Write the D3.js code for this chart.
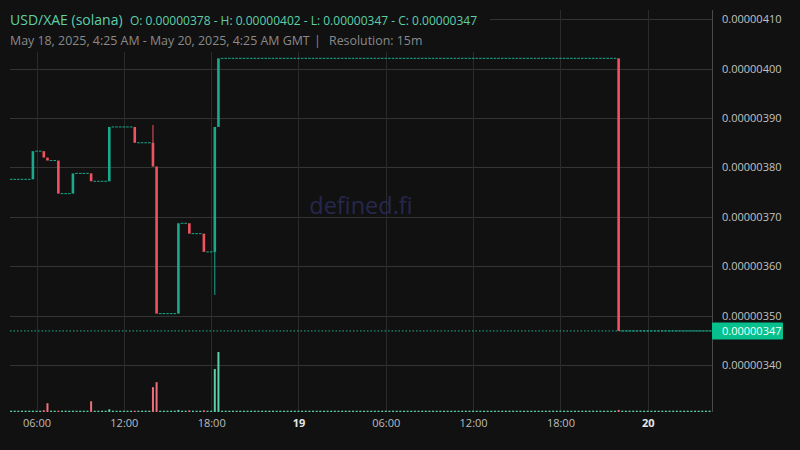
<!DOCTYPE html>
<html>
<head>
<meta charset="utf-8">
<script src="https://cdn.jsdelivr.net/npm/d3@7"></script>
<style>
  html, body { margin: 0; padding: 0; background: #111111; }
  svg { display: block; }
  text { font-family: "Open Sans", "Noto Sans", sans-serif; }
</style>
</head>
<body>
<svg id="chart" width="800" height="450"></svg>
<script>
// ---------- DATA (prices in units of 1e-8) ----------
const UNIT = 1e-8;
const startTime = Date.UTC(2025, 4, 18, 4, 15); // first 15m candle
const stepMs = 15 * 60 * 1000;

const closes = [
  377.6, 377.6, 377.6, 377.6, 377.6, 377.6,
  383.3, 383.3, 383.3,
  382.0,
  381.4, 381.4, 381.4,
  374.7, 374.7, 374.7, 374.7,
  378.8, 378.8, 378.8, 378.8, 378.8,
  377.2, 377.2, 377.2, 377.2, 377.2,
  388.2, 388.2, 388.2, 388.2, 388.2, 388.2, 388.2,
  385.0, 385.0, 385.0, 385.0, 385.0,
  380.2,
  350.4, 350.4, 350.4, 350.4, 350.4, 350.4,
  368.7, 368.7, 368.7,
  366.6, 366.6, 366.6, 366.6,
  362.9, 362.9, 362.9,
  388.2,
  402.1, 402.1, 402.1, 402.1, 402.1, 402.1, 402.1, 402.1, 402.1, 402.1,
  402.1, 402.1, 402.1, 402.1, 402.1, 402.1, 402.1, 402.1, 402.1, 402.1,
  402.1, 402.1, 402.1, 402.1, 402.1, 402.1, 402.1, 402.1, 402.1, 402.1,
  402.1, 402.1, 402.1, 402.1, 402.1, 402.1, 402.1, 402.1, 402.1, 402.1,
  402.1, 402.1, 402.1, 402.1, 402.1, 402.1, 402.1, 402.1, 402.1, 402.1,
  402.1, 402.1, 402.1, 402.1, 402.1, 402.1, 402.1, 402.1, 402.1, 402.1,
  402.1, 402.1, 402.1, 402.1, 402.1, 402.1, 402.1, 402.1, 402.1, 402.1,
  402.1, 402.1, 402.1, 402.1, 402.1, 402.1, 402.1, 402.1, 402.1, 402.1,
  402.1, 402.1, 402.1, 402.1, 402.1, 402.1, 402.1, 402.1, 402.1, 402.1,
  402.1, 402.1, 402.1, 402.1, 402.1, 402.1, 402.1, 402.1, 402.1, 402.1,
  402.1, 402.1, 402.1, 402.1, 402.1, 402.1, 402.1, 402.1, 402.1, 402.1,
  346.9, 346.9, 346.9, 346.9, 346.9, 346.9, 346.9, 346.9, 346.9, 346.9,
  346.9, 346.9, 346.9, 346.9, 346.9, 346.9, 346.9, 346.9, 346.9, 346.9,
  346.9, 346.9, 346.9, 346.9, 346.9, 346.9
];
const firstOpen = 377.6;
// wicks beyond the bodies
const wickIndex = [39, 56];
const wickHigh  = [388.6, 388.2];
const wickLow   = [380.2, 354.2];

const volumes = [
  22, 22, 22, 22, 22, 22, 22, 22, 22, 30,
  146, 22, 22, 22, 22, 22, 22, 22, 22, 22,
  22, 22, 179, 22, 22, 22, 22, 45, 22, 22,
  22, 22, 22, 22, 22, 22, 22, 22, 22, 414,
  497, 22, 22, 22, 22, 22, 35, 22, 22, 28,
  22, 22, 22, 28, 22, 22, 716, 1000, 22, 22,
  22, 22, 22, 22, 22, 22, 22, 22, 22, 22,
  22, 22, 22, 22, 22, 22, 22, 22, 22, 22,
  22, 22, 22, 22, 22, 22, 22, 22, 22, 22,
  22, 22, 22, 22, 22, 22, 22, 22, 22, 22,
  22, 22, 22, 22, 22, 22, 22, 22, 22, 22,
  22, 22, 22, 22, 22, 22, 22, 22, 22, 22,
  22, 22, 22, 22, 22, 22, 22, 22, 22, 22,
  22, 22, 22, 22, 22, 22, 22, 22, 22, 22,
  22, 22, 22, 22, 22, 22, 22, 22, 22, 22,
  22, 22, 22, 22, 22, 22, 22, 22, 22, 22,
  22, 22, 22, 22, 22, 22, 22, 35, 22, 22,
  22, 22, 22, 22, 22, 22, 22, 22, 22, 22,
  22, 22, 22, 22, 22, 22, 22, 22, 22, 22,
  22, 22, 22
];

const priceTicks = [340, 350, 360, 370, 380, 390, 400, 410];
const timeTicks = [
  Date.UTC(2025, 4, 18, 6), Date.UTC(2025, 4, 18, 12), Date.UTC(2025, 4, 18, 18),
  Date.UTC(2025, 4, 19, 0), Date.UTC(2025, 4, 19, 6), Date.UTC(2025, 4, 19, 12),
  Date.UTC(2025, 4, 19, 18), Date.UTC(2025, 4, 20, 0)
];
const timeTickLabels = ["06:00", "12:00", "18:00", "19", "06:00", "12:00", "18:00", "20"];
const lastPrice = 346.9;

const title = "USD/XAE (solana)";
const ohlcText = "O: 0.00000378 - H: 0.00000402 - L: 0.00000347 - C: 0.00000347";
const rangeText = "May 18, 2025, 4:25 AM - May 20, 2025, 4:25 AM GMT";
const resolutionText = "Resolution: 15m";

// ---------- BUILD ----------
const candles = closes.map((c, i) => {
  const o = i === 0 ? firstOpen : closes[i - 1];
  let h = Math.max(o, c), l = Math.min(o, c);
  const w = wickIndex.indexOf(i);
  if (w >= 0) { h = Math.max(h, wickHigh[w]); l = Math.min(l, wickLow[w]); }
  return { t: new Date(startTime + i * stepMs), o, h, l, c, v: volumes[i] };
});

const svg = d3.select("#chart");
const plotLeft = 10, plotRight = 712, plotTop = 10, plotBottom = 412;

const x = d3.scaleTime()
  .domain([new Date(Date.UTC(2025, 4, 18, 4, 25)), new Date(Date.UTC(2025, 4, 20, 4, 25))])
  .range([13.5, 712]);
const y = d3.scaleLinear().domain([340, 410]).range([365, 19.3]);
const yv = d3.scaleLinear().domain([0, 1000]).range([412, 352]);

const GREEN = "#19a98c", RED = "#ef5360";
const VGREEN = "#5bcfa9", VRED = "#ec6f7b";

svg.append("rect").attr("width", 800).attr("height", 450).attr("fill", "#111111");

svg.append("defs").append("clipPath").attr("id", "plotclip")
  .append("rect").attr("x", plotLeft).attr("y", plotTop)
  .attr("width", plotRight - plotLeft).attr("height", plotBottom - plotTop);

// gridlines
const grid = svg.append("g").attr("shape-rendering", "crispEdges");
grid.selectAll("line.h").data(priceTicks).join("line")
  .attr("x1", plotLeft).attr("x2", plotRight)
  .attr("y1", d => Math.round(y(d)) + 0.5).attr("y2", d => Math.round(y(d)) + 0.5)
  .attr("stroke", "#343434").attr("stroke-width", 1);
grid.selectAll("line.v").data(timeTicks).join("line")
  .attr("x1", d => Math.round(x(d)) + 0.5).attr("x2", d => Math.round(x(d)) + 0.5)
  .attr("y1", plotTop).attr("y2", plotBottom)
  .attr("stroke", "#2b2b2b").attr("stroke-width", 1);

// watermark
svg.append("text").attr("x", 361).attr("y", 214).attr("text-anchor", "middle")
  .attr("font-size", 23.5).attr("fill", "#27274e").text("defined.fi");

const plot = svg.append("g").attr("clip-path", "url(#plotclip)");

// volume bars
plot.append("g").selectAll("rect").data(candles).join("rect")
  .attr("x", d => x(d.t) - 1)
  .attr("width", 2)
  .attr("y", d => yv(d.v))
  .attr("height", d => yv(0) - yv(d.v))
  .attr("fill", d => d.c < d.o ? VRED : VGREEN);

// last price dotted line
plot.append("line")
  .attr("x1", plotLeft).attr("x2", plotRight)
  .attr("y1", y(lastPrice)).attr("y2", y(lastPrice))
  .attr("stroke", "#1db494").attr("stroke-width", 1)
  .attr("stroke-dasharray", "1.5,2");

// wicks
plot.append("g").selectAll("line").data(candles.filter(d => d.h > Math.max(d.o, d.c) || d.l < Math.min(d.o, d.c))).join("line")
  .attr("x1", d => x(d.t)).attr("x2", d => x(d.t))
  .attr("y1", d => y(d.h)).attr("y2", d => y(d.l))
  .attr("stroke", d => d.c < d.o ? RED : GREEN).attr("stroke-width", 1);

// candle bodies
plot.append("g").selectAll("rect").data(candles).join("rect")
  .attr("x", d => x(d.t) - 1.3)
  .attr("width", 2.6)
  .attr("y", d => {
    const top = y(Math.max(d.o, d.c)), bot = y(Math.min(d.o, d.c));
    return bot - top < 1 ? (top + bot) / 2 - 0.5 : top;
  })
  .attr("height", d => Math.max(1, y(Math.min(d.o, d.c)) - y(Math.max(d.o, d.c))))
  .attr("fill", d => d.c < d.o ? RED : GREEN);

// right axis line
svg.append("line").attr("x1", plotRight + 0.5).attr("x2", plotRight + 0.5)
  .attr("y1", plotTop).attr("y2", plotBottom)
  .attr("stroke", "#4a4a4a").attr("shape-rendering", "crispEdges");

// y axis
const yAxis = svg.append("g").attr("transform", `translate(${plotRight},0)`)
  .call(d3.axisRight(y).tickValues(priceTicks).tickSize(0).tickPadding(10)
    .tickFormat(d => (d * UNIT).toFixed(8)));
yAxis.select(".domain").remove();
yAxis.selectAll("text").attr("font-size", 11).attr("fill", "#c2c2c2")
  .attr("font-family", '"Open Sans", "Noto Sans", sans-serif');

// x axis
const xAxis = svg.append("g").attr("transform", `translate(0,${plotBottom})`)
  .call(d3.axisBottom(x).tickValues(timeTicks.map(t => new Date(t))).tickSize(0).tickPadding(7)
    .tickFormat((d, i) => timeTickLabels[i]));
xAxis.select(".domain").remove();
xAxis.selectAll("text").attr("font-size", 11)
  .attr("font-family", '"Open Sans", "Noto Sans", sans-serif')
  .attr("fill", (d, i) => timeTickLabels[i].length === 2 ? "#e6e6e6" : "#bdbdbd")
  .attr("font-weight", (d, i) => timeTickLabels[i].length === 2 ? "bold" : "normal");

// last price label
const lp = svg.append("g");
lp.append("rect").attr("x", plotRight).attr("y", y(lastPrice) - 8.5)
  .attr("width", 71).attr("height", 17).attr("fill", "#06c08e").attr("rx", 1);
lp.append("text").attr("x", 722).attr("y", y(lastPrice)).attr("dy", "0.34em")
  .attr("font-size", 11).attr("fill", "#f0fff9").text((lastPrice * UNIT).toFixed(8));

// header (with background masking the grid)
svg.append("rect").attr("x", 0).attr("y", 0).attr("width", 490).attr("height", 52).attr("fill", "#111111");
svg.append("text").attr("x", 10).attr("y", 25).attr("font-size", 14).attr("fill", "#5fcfa8").text(title);
svg.append("text").attr("x", 130).attr("y", 25).attr("font-size", 12).attr("fill", "#5fcfa8").text(ohlcText);
svg.append("text").attr("x", 10).attr("y", 45).attr("font-size", 12.4).attr("fill", "#8a8a8a").text(rangeText);
svg.append("text").attr("x", 314).attr("y", 45).attr("font-size", 12.4).attr("fill", "#8a8a8a").text("|");
svg.append("text").attr("x", 329).attr("y", 45).attr("font-size", 12.4).attr("fill", "#8a8a8a").text(resolutionText);
</script>
</body>
</html>
